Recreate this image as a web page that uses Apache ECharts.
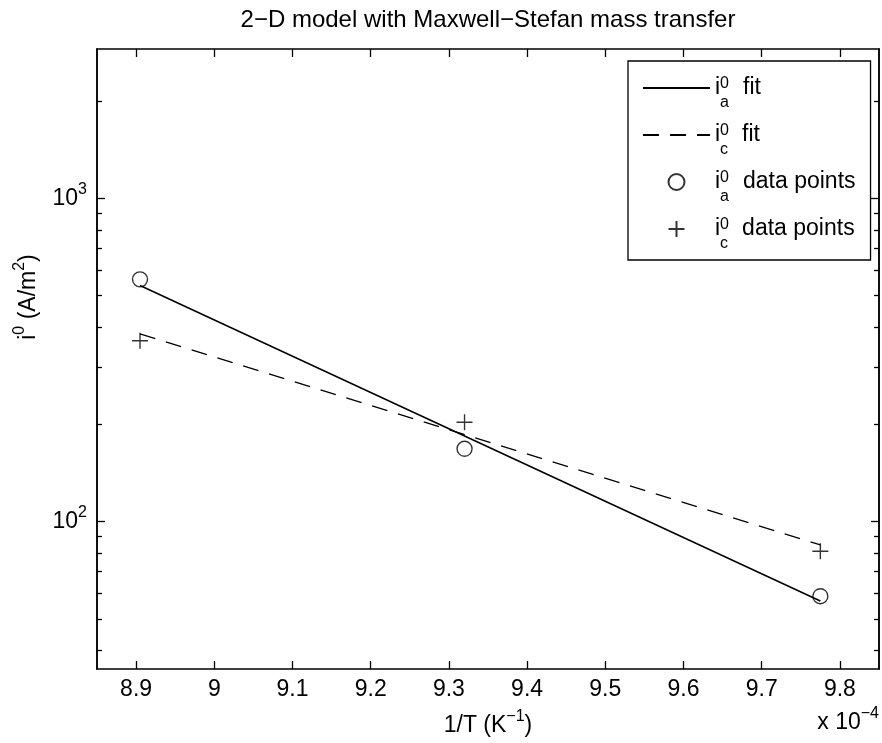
<!DOCTYPE html>
<html><head><meta charset="utf-8">
<script src="https://cdn.jsdelivr.net/npm/echarts@6/dist/echarts.min.js"></script>
<style>html,body{margin:0;padding:0;background:#fff}#c{width:882px;height:743px}</style>
</head><body><div id="c"></div>
<script>
// 1/T values in units of 1e-4 K^-1
const invT = [8.905, 9.32, 9.775];
const iaPoints = [562, 168, 58.8];
const icPoints = [363, 203, 81];
const fitX = [8.905, 9.775];
const iaFit = [538, 56.8];
const icFit = [381, 84.7];
const xTicks = [8.9, 9.0, 9.1, 9.2, 9.3, 9.4, 9.5, 9.6, 9.7, 9.8];
const yMajor = [100, 1000];
const yMinor = [40, 50, 60, 70, 80, 90, 200, 300, 400, 500, 600, 700, 800, 900, 2000];
const xMin = 8.85, xMax = 9.85, yMin = 35, yMax = 2900;

const FF = '"Liberation Sans", Arial, Helvetica, sans-serif';
const chart = echarts.init(document.getElementById('c'), null, {renderer: 'canvas'});
const pair = (xs, ys) => xs.map((x, i) => [x, ys[i]]);
const plusPath = 'path://M0,5L10,5M5,0L5,10';

const baseX = {type: 'value', min: xMin, max: xMax, splitLine: {show: false},
  axisLine: {show: true, onZero: false, lineStyle: {color: '#000', width: 1.5}},
  axisTick: {show: true, inside: true, length: 8, customValues: xTicks, lineStyle: {color: '#000', width: 1.3}}};
const baseY = {type: 'log', logBase: 10, min: yMin, max: yMax, splitLine: {show: false},
  axisLine: {show: true, onZero: false, lineStyle: {color: '#000', width: 1.5}}};

const legendLabels = {
  'ia fit': '{m|i}{sup|0}{sub|a}{g|}{m|fit}',
  'ic fit': '{m|i}{sup|0}{sub|c}{g|}{m|fit}',
  'ia data': '{m|i}{sup|0}{sub|a}{g|}{m|data points}',
  'ic data': '{m|i}{sup|0}{sub|c}{g|}{m|data points}'
};

chart.setOption({
  animation: false,
  backgroundColor: '#fff',
  title: {text: '2\u2212D model with Maxwell\u2212Stefan mass transfer', left: 488, textAlign: 'center', top: 8, padding: 0,
    textStyle: {fontFamily: FF, fontSize: 24, fontWeight: 'normal', color: '#000'}},
  grid: {left: 97, right: 3, top: 49, bottom: 74, containLabel: false},
  xAxis: [
    Object.assign({}, baseX, {position: 'bottom',
      axisLabel: {show: true, customValues: xTicks, margin: 9, color: '#000', fontFamily: FF, fontSize: 23,
        formatter: v => (Math.round(v * 10) / 10).toString()},
      name: '{n|1/T (K}{s|\u22121}{n|)}', nameLocation: 'middle', nameGap: 40,
      nameTextStyle: {color: '#000', rich: {
        n: {fontFamily: FF, fontSize: 23, lineHeight: 34, color: '#000'},
        s: {fontFamily: FF, fontSize: 16, height: 16, lineHeight: 16, verticalAlign: 'top', color: '#000'}}}}),
    Object.assign({}, baseX, {position: 'top', axisLabel: {show: false}})
  ],
  yAxis: [
    Object.assign({}, baseY, {position: 'left',
      axisTick: {show: true, inside: true, length: 8, customValues: yMajor, lineStyle: {color: '#000', width: 1.3}},
      axisLabel: {show: true, customValues: yMajor, margin: 10, color: '#000',
        formatter: v => '{b|10}{s|' + Math.round(Math.log10(v)) + '}',
        rich: {b: {fontFamily: FF, fontSize: 23, lineHeight: 34, color: '#000'},
               s: {fontFamily: FF, fontSize: 16, height: 16, lineHeight: 16, verticalAlign: 'top', color: '#000'}}}}),
    Object.assign({}, baseY, {position: 'left', axisLabel: {show: false},
      axisTick: {show: true, inside: true, length: 5, customValues: yMinor, lineStyle: {color: '#000', width: 1.3}}}),
    Object.assign({}, baseY, {position: 'right', axisLabel: {show: false},
      axisTick: {show: true, inside: true, length: 8, customValues: yMajor, lineStyle: {color: '#000', width: 1.3}}}),
    Object.assign({}, baseY, {position: 'right', axisLabel: {show: false},
      axisTick: {show: true, inside: true, length: 5, customValues: yMinor, lineStyle: {color: '#000', width: 1.3}}})
  ],
  legend: {
    orient: 'vertical', left: 628, top: 61, padding: [7, 15, 8, 14], itemGap: 4,
    itemWidth: 67, itemHeight: 16, backgroundColor: '#fff', borderColor: '#000', borderWidth: 1.3, borderRadius: 0,
    data: [
      {name: 'ia fit', itemStyle: {opacity: 0}},
      {name: 'ic fit', itemStyle: {opacity: 0}},
      {name: 'ia data'},
      {name: 'ic data'}
    ],
    formatter: name => legendLabels[name],
    textStyle: {color: '#000', rich: {
      m: {fontFamily: FF, fontSize: 23, lineHeight: 40, color: '#000'},
      sup: {fontFamily: FF, fontSize: 16, height: 31, lineHeight: 31, verticalAlign: 'top', width: 0, color: '#000'},
      sub: {fontFamily: FF, fontSize: 16, height: 10, lineHeight: 10, verticalAlign: 'bottom', color: '#000'},
      g: {width: 14}}}
  },
  graphic: [
    {type: 'text', x: 29, y: 297, rotation: Math.PI / 2, style: {
      text: '{n|i}{s|0}{n| (A/m}{s|2}{n|)}', align: 'center', verticalAlign: 'middle', fill: '#000',
      rich: {n: {fontFamily: FF, fontSize: 23, lineHeight: 34, fill: '#000'},
             s: {fontFamily: FF, fontSize: 16, height: 16, lineHeight: 16, verticalAlign: 'top', fill: '#000'}}}},
    {type: 'text', right: 3, top: 706, style: {
      text: '{n|x 10}{s|\u22124}', fill: '#000',
      rich: {n: {fontFamily: FF, fontSize: 23, lineHeight: 34, fill: '#000'},
             s: {fontFamily: FF, fontSize: 16, height: 16, lineHeight: 16, verticalAlign: 'top', fill: '#000'}}}}
  ],
  series: [
    {name: 'ia fit', type: 'line', data: pair(fitX, iaFit), symbol: 'none', xAxisIndex: 0, yAxisIndex: 0,
      lineStyle: {color: '#000', width: 1.5, type: 'solid'}, itemStyle: {color: '#000'}},
    {name: 'ic fit', type: 'line', data: pair(fitX, icFit), symbol: 'none', xAxisIndex: 0, yAxisIndex: 0,
      lineStyle: {color: '#000', width: 1.3, type: [16, 11]}, itemStyle: {color: '#000'}},
    {name: 'ia data', type: 'scatter', data: pair(invT, iaPoints), symbol: 'circle', symbolSize: 15, symbolKeepAspect: true,
      itemStyle: {color: 'rgba(0,0,0,0)', borderColor: '#000', borderWidth: 1.4}},
    {name: 'ic data', type: 'scatter', data: pair(invT, icPoints), symbol: plusPath, symbolSize: 16, symbolKeepAspect: true,
      itemStyle: {color: 'rgba(0,0,0,0)', borderColor: '#000', borderWidth: 1.4}}
  ]
});
</script></body></html>
